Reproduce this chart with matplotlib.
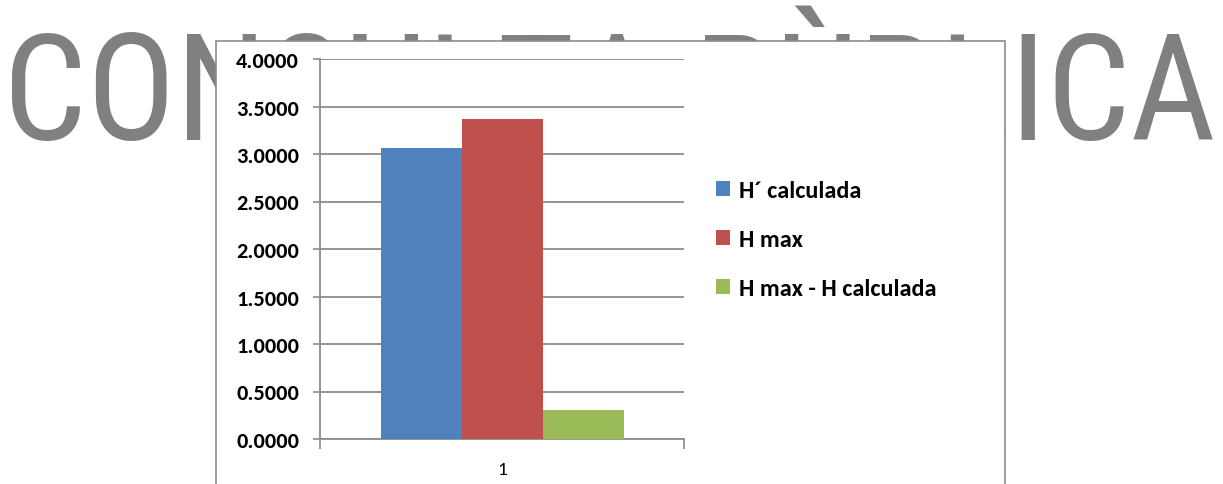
import matplotlib
matplotlib.use("Agg")
import matplotlib.pyplot as plt
from matplotlib.patches import Rectangle
from matplotlib.ticker import FixedLocator, FormatStrFormatter

# Shannon diversity values for the single sample
categories = ["1"]
series_names = ["H\u00b4 calculada", "H max", "H max - H calculada"]
series_values = [3.0630, 3.3673, 0.3043]
series_colors = ["#4F81BD", "#C0504D", "#9BBB59"]
y_ticks = [0.0, 0.5, 1.0, 1.5, 2.0, 2.5, 3.0, 3.5, 4.0]
watermark = "CONSULTA P\u00d9BLICA"

W, H = 1223, 485
fig = plt.figure(figsize=(W / 100, H / 100), dpi=100)
fig.patch.set_facecolor("white")

label_font = ["Carlito", "DejaVu Sans"]
grid_gray = "#8C8C8C"

# Big gray watermark behind the chart frame
fig.text(3 / W, (H - 140) / H, watermark, ha="left", va="baseline",
         fontsize=106.5, color="#808080",
         family=["Roboto Condensed", "Liberation Sans", "DejaVu Sans"],
         zorder=-3)

# White chart frame
frame = Rectangle((216 / W, -0.1), (1005 - 216) / W, 0.1 + (H - 42) / H,
                  transform=fig.transFigure, facecolor="white",
                  edgecolor="#8C8C8C", linewidth=1.2, zorder=-2)
fig.patches.append(frame)

ax = fig.add_axes([320 / W, (H - 440) / H, (684 - 320) / W, 380 / H])
ax.set_facecolor("none")

bar_w = 81 / 364
offsets = [-bar_w, 0.0, bar_w]
handles = []
for name, val, col, off in zip(series_names, series_values, series_colors, offsets):
    b = ax.bar(1 + off, val, width=bar_w, color=col, label=name, zorder=3)
    handles.append(b)

ax.set_xlim(0.5, 1.5)
ax.set_ylim(0, 4.0)

ax.yaxis.set_major_locator(FixedLocator(y_ticks))
ax.yaxis.set_major_formatter(FormatStrFormatter("%.4f"))
ax.grid(axis="y", color=grid_gray, linewidth=1.3, zorder=0)
ax.set_axisbelow(True)

ax.set_xticks([1])
ax.set_xticklabels(categories)
ax.set_xticks([0.5, 1.5], minor=True)
ax.tick_params(axis="x", which="major", length=0, pad=16,
               labelsize=14, labelcolor="black")
ax.tick_params(axis="x", which="minor", length=7, width=1.2,
               color=grid_gray, direction="out")
ax.tick_params(axis="y", which="major", length=5, width=1.2,
               color=grid_gray, pad=10, labelsize=16, labelcolor="black")
for lbl in ax.get_yticklabels():
    lbl.set_family(label_font)
    lbl.set_fontweight("bold")
for lbl in ax.get_xticklabels():
    lbl.set_family(label_font)

for side in ("top", "right"):
    ax.spines[side].set_visible(False)
for side in ("left", "bottom"):
    ax.spines[side].set_color(grid_gray)
    ax.spines[side].set_linewidth(1.3)

leg = fig.legend(handles=handles, labels=series_names,
                 loc="center left", bbox_to_anchor=(716 / W, (H - 240.5) / H),
                 frameon=False, borderpad=0, borderaxespad=0,
                 handlelength=0.58, handleheight=0.58, handletextpad=0.36,
                 labelspacing=1.15,
                 prop={"family": label_font, "weight": "bold", "size": 17.5})

fig.savefig("out.png", dpi=100, facecolor="white")
